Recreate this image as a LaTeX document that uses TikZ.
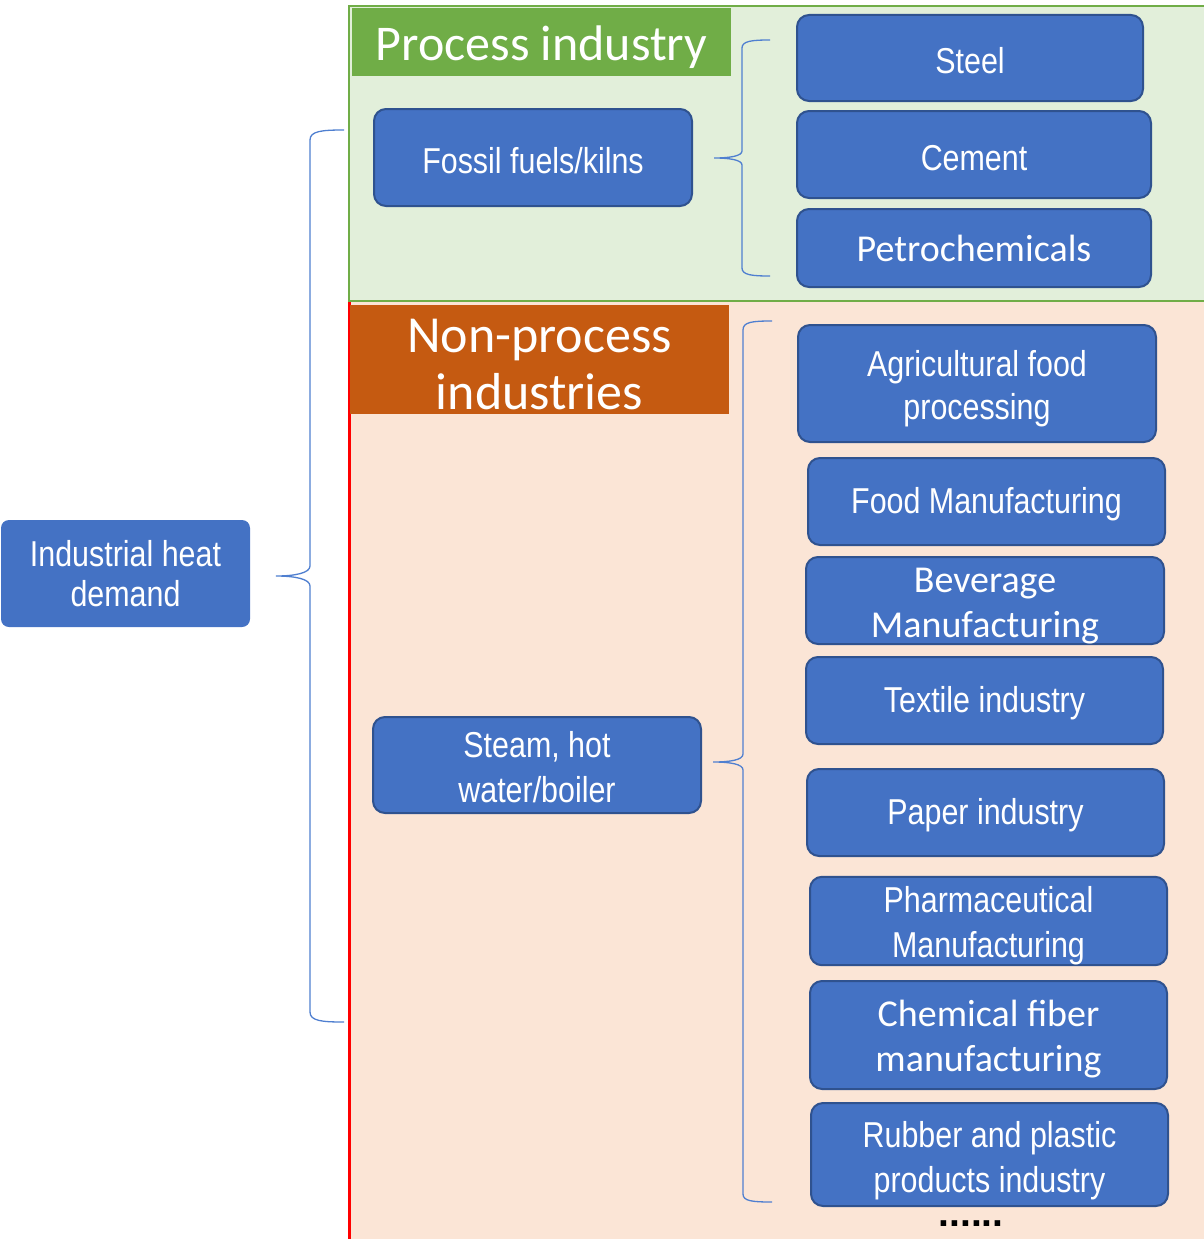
\documentclass[tikz,border=0pt]{standalone}
\usepackage{fontspec}
\setmainfont{Liberation Sans}
\newfontfamily\narrowfont{Liberation Sans}[FakeStretch=0.845]
\newfontfamily\lightfont{Carlito}
\newcommand\topstrut[1]{\rule{0pt}{#1}}
\definecolor{boxblue}{HTML}{4472C4}
\definecolor{boxedge}{HTML}{2F528F}
\definecolor{greenbg}{HTML}{E2EFDA}
\definecolor{greenbd}{HTML}{70AD47}
\definecolor{orangebg}{HTML}{FBE5D6}
\definecolor{titleorange}{HTML}{C55A11}
\definecolor{bracecol}{HTML}{4F7FD0}
\tikzset{
  bluebox/.style={rounded corners=12pt, fill=boxblue, draw=boxedge, line width=2pt, text=white, align=center, inner sep=0pt,
    font=\narrowfont\fontsize{36}{45}\selectfont},
  lightbox/.style={bluebox, font=\lightfont\fontsize{38}{45}\selectfont},
  titlebox/.style={text=white, minimum width=379pt, inner sep=0pt, align=center},
  bracket/.style={draw=bracecol, line width=1.3pt},
}
\begin{document}
\begin{tikzpicture}[x=1pt,y=-1pt]
\useasboundingbox (0,0) rectangle (1204,1239);
% panels
\fill[orangebg] (348,302) rectangle (1204,1239);
\path[fill=greenbg, draw=greenbd, line width=2.5pt] (349,6) rectangle (1206,301);
\draw[red, line width=3pt] (349,302) -- (349,1239);
% titles
\node[titlebox, fill=greenbd, minimum height=68pt,
  font=\lightfont\fontsize{50}{57}\selectfont] (proctitle) at (541.5,42) {\topstrut{45pt}Process industry};
\node[titlebox, fill=titleorange, minimum height=109pt,
  font=\lightfont\fontsize{52}{57}\selectfont] (nonproctitle) at (539.5,359.5) {\topstrut{44pt}Non-process\\industries};
% root
\node[bluebox, draw=none, rounded corners=8pt, minimum width=249pt, minimum height=107pt,
  font=\narrowfont\fontsize{36}{40}\selectfont] (heat) at (125.5,573.5) {Industrial heat\\demand};
% middle
\node[bluebox, minimum width=318pt, minimum height=97pt] (fossil) at (533,157.5) {\topstrut{32pt}Fossil fuels/kilns};
\node[bluebox, minimum width=328pt, minimum height=96pt] (steam) at (537,765) {\topstrut{30pt}Steam, hot\\water/boiler};
% right, process
\node[bluebox, minimum width=346pt, minimum height=86pt] (steel) at (970,58) {\topstrut{32pt}Steel};
\node[bluebox, minimum width=354pt, minimum height=87pt] (cement) at (974,154.5) {\topstrut{32pt}Cement};
\node[lightbox, minimum width=354pt, minimum height=78pt] (petro) at (974,248) {\topstrut{28pt}Petrochemicals};
% right, non-process
\node[bluebox, minimum width=358pt, minimum height=117pt, font=\narrowfont\fontsize{36}{43}\selectfont] (agri) at (977,383.5) {\topstrut{36pt}Agricultural food\\processing};
\node[bluebox, minimum width=357pt, minimum height=87pt] (foodm) at (986.5,501.5) {\topstrut{32pt}Food Manufacturing};
\node[lightbox, minimum width=358pt, minimum height=87pt] (bev) at (985,600.5) {\topstrut{35pt}Beverage\\Manufacturing};
\node[bluebox, minimum width=357pt, minimum height=87pt] (textile) at (984.5,700.5) {\topstrut{32pt}Textile industry};
\node[bluebox, minimum width=357pt, minimum height=87pt] (paper) at (985.5,812.5) {\topstrut{32pt}Paper industry};
\node[bluebox, minimum width=357pt, minimum height=88pt] (pharma) at (988.5,921) {\topstrut{36pt}Pharmaceutical\\Manufacturing};
\node[lightbox, minimum width=357pt, minimum height=108pt] (chem) at (988.5,1035) {\topstrut{35pt}Chemical fiber\\manufacturing};
\node[bluebox, minimum width=357pt, minimum height=103pt] (rubber) at (989.5,1154.5) {\topstrut{38pt}Rubber and plastic\\products industry};
\node[font=\bfseries\fontsize{39}{40}\selectfont, inner sep=0pt] (dots) at (971,1224) {......};
% braces
\draw[bracket] (344,130) .. controls (322,130) and (310,131) .. (310,140) -- (310,566)
  .. controls (310,573) and (295,576) .. (276,576) .. controls (295,576) and (310,579) .. (310,586)
  -- (310,1012) .. controls (310,1021) and (322,1022) .. (344,1022);
\draw[bracket] (770,40) .. controls (752,40) and (742,41) .. (742,48) -- (742,151)
  .. controls (742,156) and (730,158) .. (714,158) .. controls (730,158) and (742,160) .. (742,165)
  -- (742,268) .. controls (742,275) and (752,276) .. (770,276);
\draw[bracket] (772,321) .. controls (752,321) and (743,322) .. (743,330) -- (743,754)
  .. controls (743,760) and (730,762) .. (713,762) .. controls (730,762) and (743,764) .. (743,770)
  -- (743,1194) .. controls (743,1201) and (752,1202) .. (772,1202);
\end{tikzpicture}
\end{document}
